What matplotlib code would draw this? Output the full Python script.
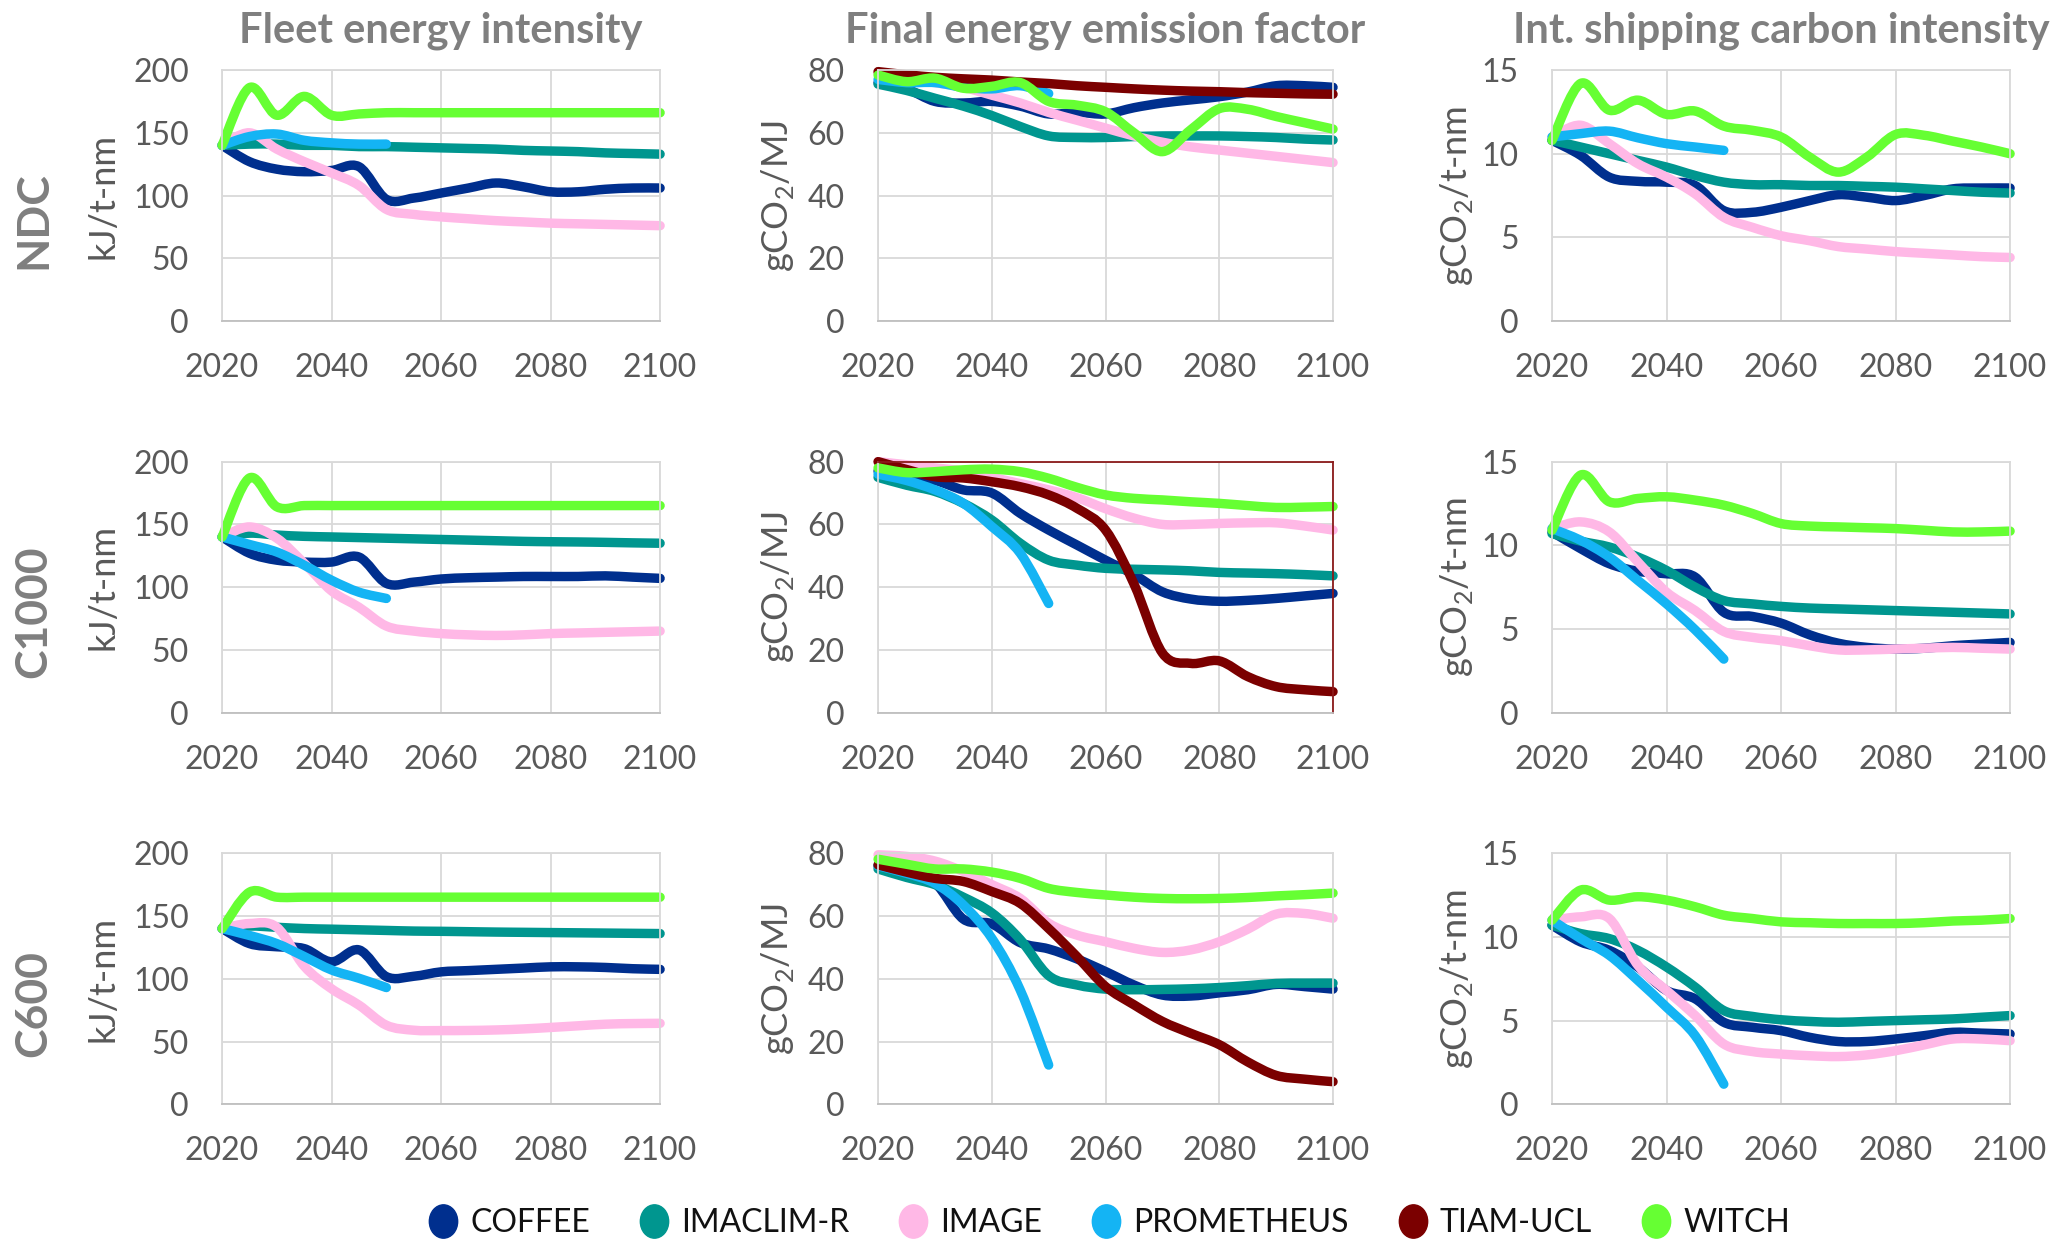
import numpy as np
import matplotlib.pyplot as plt
from matplotlib.path import Path
from matplotlib.patches import PathPatch
from matplotlib.lines import Line2D
from matplotlib.markers import MarkerStyle
from matplotlib.transforms import Affine2D

plt.rcParams['font.family'] = ['Lato', 'DejaVu Sans']
plt.rcParams['mathtext.fontset'] = 'custom'
plt.rcParams['mathtext.rm'] = 'Lato'

# ---- data -------------------------------------------------------------
years = list(range(2020, 2101, 5))
years_prom = list(range(2020, 2051, 5))

models = ['COFFEE', 'IMACLIM-R', 'IMAGE', 'PROMETHEUS', 'TIAM-UCL', 'WITCH']
colors = ['#002f8e', '#00968f', '#ffb8e6', '#14b4f4', '#7b0000', '#66ff33']

scenarios = ['NDC', 'C1000', 'C600']
titles = ['Fleet energy intensity', 'Final energy emission factor',
          'Int. shipping carbon intensity']
ylabels = ['kJ/t-nm', r'gCO$_\mathregular{2}$/MJ', r'gCO$_\mathregular{2}$/t-nm']
ymax = [200, 80, 15]
ystep = [50, 20, 5]

# fleet energy intensity, kJ/t-nm
fei_ndc_coffee = [140, 127, 121, 119, 120, 123, 97, 98, 102, 106, 110, 107, 103, 103, 105, 106, 106]
fei_ndc_imaclim = [140, 141, 141, 140, 140, 139, 139, 138.5, 138, 137.5, 137, 136, 135.5, 135, 134, 133.5, 133]
fei_ndc_image = [140, 150, 137, 127, 118, 108, 89, 85, 83, 81.5, 80, 79, 78, 77.5, 77, 76.5, 76]
fei_ndc_prom = [140, 147, 149, 144, 142, 141, 141]
fei_ndc_witch = [140, 186, 164, 179, 164, 165, 166, 166, 166, 166, 166, 166, 166, 166, 166, 166, 166]

fei_c1000_coffee = [140, 127, 121.5, 120, 120, 124, 103, 104, 106.5, 107.5, 108, 108.5, 108.5, 108.5, 109, 108, 107]
fei_c1000_imaclim = [140, 143, 141.5, 140.5, 140, 139.5, 139, 138.5, 138, 137.5, 137, 136.5, 136.2, 136, 135.7, 135.3, 135]
fei_c1000_image = [140, 148, 139, 119, 97, 84, 69, 65, 63, 62, 61.5, 62, 63, 63.5, 64, 64.5, 65]
fei_c1000_prom = [140, 134, 128, 117.5, 105.5, 96, 91]
fei_c1000_witch = [140, 187, 164, 165, 165, 165, 165, 165, 165, 165, 165, 165, 165, 165, 165, 165, 165]

fei_c600_coffee = [140, 128, 125.5, 124, 113.5, 123, 101.7, 102, 105.5, 106.5, 107.5, 108.5, 109.5, 109.5, 109, 108, 107.5]
fei_c600_imaclim = [140, 142, 141, 140, 139.5, 139, 138.5, 138, 137.8, 137.5, 137.2, 137, 136.8, 136.6, 136.4, 136.2, 136]
fei_c600_image = [140, 144, 141, 110, 92, 79, 63, 59, 58.7, 58.8, 59.2, 60, 61.2, 62.5, 63.8, 64.3, 64.5]
fei_c600_prom = [140, 134.5, 128, 117.7, 107, 100.4, 93]
fei_c600_witch = [140, 169, 165, 165, 165, 165, 165, 165, 165, 165, 165, 165, 165, 165, 165, 165, 165]

# final energy emission factor, gCO2/MJ
fef_ndc_coffee = [76, 74, 70, 69.5, 70, 68.5, 66, 66.5, 66, 68, 69.5, 70.5, 71.5, 73, 75, 75, 74.5]
fef_ndc_imaclim = [75.5, 73.5, 71, 68.5, 65.5, 62, 59, 58.5, 58.5, 58.8, 59, 59, 59, 58.8, 58.5, 58, 57.7]
fef_ndc_image = [79, 77.5, 76, 74.5, 72, 69.5, 66.5, 64, 61.5, 59, 57, 55.5, 54.5, 53.5, 52.5, 51.5, 50.5]
fef_ndc_prom = [77, 76, 76, 74.5, 74, 75, 72.5]
fef_ndc_tiam = [79.5, 78.5, 77.7, 77.2, 76.8, 76.2, 75.7, 75, 74.5, 74, 73.6, 73.3, 73.1, 72.8, 72.6, 72.4, 72.3]
fef_ndc_witch = [78.4, 76.3, 77.4, 74.2, 74.8, 76, 70, 68.8, 66.7, 60, 54, 61, 67.7, 67.5, 65.2, 63.2, 61.2]

fef_c1000_coffee = [77, 75, 74, 71, 70, 63.5, 58.2, 53.4, 48.6, 44, 38.5, 36.2, 35.5, 35.8, 36.4, 37.2, 38]
fef_c1000_imaclim = [75, 72.5, 70.5, 66.7, 61.4, 54, 48.6, 47, 46, 45.7, 45.5, 45.2, 44.7, 44.5, 44.3, 44, 43.6]
fef_c1000_image = [80, 79, 78, 77, 75, 73, 71, 68.5, 65, 62, 60, 60, 60.3, 60.5, 60.5, 59.5, 58.2]
fef_c1000_prom = [76, 74, 71, 66.7, 59.3, 50.8, 34.8]
fef_c1000_tiam = [80, 77.5, 75.2, 74.8, 73.6, 72, 69.4, 65.1, 58.2, 41, 19, 15.7, 16.5, 11.5, 8.3, 7.3, 6.7]
fef_c1000_witch = [78, 76.5, 76.8, 77.4, 77.6, 76.8, 74.7, 71.8, 69.4, 68.3, 67.8, 67.2, 66.7, 66, 65.4, 65.5, 65.7]

fef_c600_coffee = [76, 73.5, 70.5, 59, 57.5, 51.5, 49.5, 46.3, 42.3, 38, 34.8, 34.5, 35.5, 36.5, 38.2, 37.5, 36.7]
fef_c600_imaclim = [75, 72.3, 70, 66, 61, 52.5, 41, 38, 36.7, 36.5, 36.6, 36.8, 37.2, 37.8, 38.5, 38.6, 38.6]
fef_c600_image = [79.5, 79, 77.5, 74.2, 70, 65.6, 57.7, 53.9, 51.8, 49.7, 48.4, 49.2, 51.8, 55.8, 60.6, 60.8, 59.3]
fef_c600_prom = [76, 73.6, 70.4, 63.5, 52.9, 36.4, 12.5]
fef_c600_tiam = [76.3, 74, 72, 71, 67.8, 64, 56, 47, 37.5, 31.7, 26.4, 22.6, 19, 13.5, 9.2, 8, 7.2]
fef_c600_witch = [78.1, 76.5, 75, 75, 74, 72, 68.8, 67.5, 66.7, 66, 65.6, 65.5, 65.6, 65.9, 66.4, 66.8, 67.3]

# international shipping carbon intensity, gCO2/t-nm
sci_ndc_coffee = [10.8, 9.9, 8.6, 8.35, 8.3, 8.1, 6.6, 6.5, 6.8, 7.2, 7.55, 7.4, 7.2, 7.5, 7.9, 7.95, 7.95]
sci_ndc_imaclim = [10.8, 10.4, 10.0, 9.6, 9.2, 8.7, 8.3, 8.15, 8.15, 8.1, 8.1, 8.05, 8.0, 7.9, 7.8, 7.7, 7.65]
sci_ndc_image = [11.0, 11.7, 10.6, 9.4, 8.6, 7.6, 6.2, 5.6, 5.1, 4.8, 4.45, 4.3, 4.15, 4.05, 3.95, 3.85, 3.8]
sci_ndc_prom = [11.0, 11.2, 11.35, 10.95, 10.6, 10.4, 10.2]
sci_ndc_witch = [10.8, 14.2, 12.6, 13.2, 12.35, 12.55, 11.65, 11.4, 11.0, 9.8, 8.9, 9.8, 11.15, 11.1, 10.75, 10.4, 10.0]

sci_c1000_coffee = [10.8, 9.8, 8.9, 8.45, 8.3, 8.1, 6.0, 5.75, 5.35, 4.65, 4.15, 3.9, 3.8, 3.85, 4.0, 4.1, 4.2]
sci_c1000_imaclim = [10.7, 10.25, 9.9, 9.3, 8.5, 7.5, 6.7, 6.5, 6.35, 6.25, 6.2, 6.15, 6.1, 6.05, 6.0, 5.95, 5.9]
sci_c1000_image = [11.0, 11.4, 10.8, 9.0, 7.2, 6.1, 4.85, 4.5, 4.3, 4.0, 3.75, 3.75, 3.8, 3.85, 3.9, 3.85, 3.8]
sci_c1000_prom = [11.0, 10.3, 9.3, 7.9, 6.5, 4.95, 3.2]
sci_c1000_witch = [10.9, 14.2, 12.6, 12.8, 12.9, 12.7, 12.4, 11.9, 11.3, 11.15, 11.1, 11.05, 11.0, 10.9, 10.8, 10.8, 10.85]

sci_c600_coffee = [10.7, 9.7, 9.2, 8.2, 6.8, 6.3, 4.9, 4.6, 4.4, 4.0, 3.75, 3.75, 3.9, 4.1, 4.3, 4.25, 4.2]
sci_c600_imaclim = [10.7, 10.2, 9.9, 9.2, 8.2, 7.0, 5.6, 5.25, 5.05, 4.95, 4.9, 4.95, 5.0, 5.05, 5.1, 5.2, 5.3]
sci_c600_image = [11.0, 11.2, 11.1, 8.3, 6.8, 5.3, 3.6, 3.15, 3.0, 2.9, 2.85, 2.95, 3.2, 3.55, 3.9, 3.9, 3.8]
sci_c600_prom = [11.0, 9.9, 8.9, 7.4, 5.8, 4.1, 1.2]
sci_c600_witch = [11.0, 12.8, 12.2, 12.4, 12.2, 11.8, 11.3, 11.1, 10.9, 10.85, 10.8, 10.8, 10.8, 10.85, 10.95, 11.0, 11.1]

# panels[row][col] -> {model: values}
panels = [
    [{'COFFEE': fei_ndc_coffee, 'IMACLIM-R': fei_ndc_imaclim, 'IMAGE': fei_ndc_image,
      'PROMETHEUS': fei_ndc_prom, 'WITCH': fei_ndc_witch},
     {'COFFEE': fef_ndc_coffee, 'IMACLIM-R': fef_ndc_imaclim, 'IMAGE': fef_ndc_image,
      'PROMETHEUS': fef_ndc_prom, 'TIAM-UCL': fef_ndc_tiam, 'WITCH': fef_ndc_witch},
     {'COFFEE': sci_ndc_coffee, 'IMACLIM-R': sci_ndc_imaclim, 'IMAGE': sci_ndc_image,
      'PROMETHEUS': sci_ndc_prom, 'WITCH': sci_ndc_witch}],
    [{'COFFEE': fei_c1000_coffee, 'IMACLIM-R': fei_c1000_imaclim, 'IMAGE': fei_c1000_image,
      'PROMETHEUS': fei_c1000_prom, 'WITCH': fei_c1000_witch},
     {'COFFEE': fef_c1000_coffee, 'IMACLIM-R': fef_c1000_imaclim, 'IMAGE': fef_c1000_image,
      'PROMETHEUS': fef_c1000_prom, 'TIAM-UCL': fef_c1000_tiam, 'WITCH': fef_c1000_witch},
     {'COFFEE': sci_c1000_coffee, 'IMACLIM-R': sci_c1000_imaclim, 'IMAGE': sci_c1000_image,
      'PROMETHEUS': sci_c1000_prom, 'WITCH': sci_c1000_witch}],
    [{'COFFEE': fei_c600_coffee, 'IMACLIM-R': fei_c600_imaclim, 'IMAGE': fei_c600_image,
      'PROMETHEUS': fei_c600_prom, 'WITCH': fei_c600_witch},
     {'COFFEE': fef_c600_coffee, 'IMACLIM-R': fef_c600_imaclim, 'IMAGE': fef_c600_image,
      'PROMETHEUS': fef_c600_prom, 'TIAM-UCL': fef_c600_tiam, 'WITCH': fef_c600_witch},
     {'COFFEE': sci_c600_coffee, 'IMACLIM-R': sci_c600_imaclim, 'IMAGE': sci_c600_image,
      'PROMETHEUS': sci_c600_prom, 'WITCH': sci_c600_witch}],
]


def smooth_path(x, y):
    # Bezier curve through the points (like a spreadsheet "smoothed line")
    pts = np.column_stack([x, y]).astype(float)
    n = len(pts)
    verts = [pts[0]]
    codes = [Path.MOVETO]
    for i in range(n - 1):
        p0 = pts[i - 1] if i > 0 else pts[i]
        p1 = pts[i]
        p2 = pts[i + 1]
        p3 = pts[i + 2] if i + 2 < n else pts[i + 1]
        verts += [p1 + (p2 - p0) / 6, p2 - (p3 - p1) / 6, p2]
        codes += [Path.CURVE4] * 3
    return Path(verts, codes)


fig = plt.figure(figsize=(20.68, 12.42), dpi=100)

col_left = [0.1074, 0.4246, 0.7505]
col_w = [0.2118, 0.2200, 0.2215]
row_bottom = [0.7415, 0.4262, 0.1109]
row_h = 0.2021
ylab_x = [-0.235, -0.180, -0.168]

grid_c = '#d9d9d9'
text_c = '#595959'

for r in range(3):
    for c in range(3):
        ax = fig.add_axes([col_left[c], row_bottom[r], col_w[c], row_h])
        ax.set_xlim(2020, 2100)
        ax.set_ylim(0, ymax[c])
        ax.set_xticks(range(2020, 2101, 20))
        ax.set_yticks(np.arange(0, ymax[c] + 1, ystep[c]))
        ax.grid(True, color=grid_c, lw=1.3)
        ax.set_axisbelow(True)
        for s in ax.spines.values():
            s.set_color(grid_c)
            s.set_linewidth(1.3)
        ax.spines['bottom'].set_color('#bfbfbf')
        if r == 1 and c == 1:
            ax.spines['top'].set_color('#8b1a1a')
            ax.spines['right'].set_color('#8b1a1a')
        ax.tick_params(length=0, labelsize=23, labelcolor=text_c)
        ax.tick_params(axis='x', pad=23)
        ax.tick_params(axis='y', pad=24)

        ax.set_ylabel(ylabels[c], fontsize=26, color=text_c)
        ax.yaxis.set_label_coords(ylab_x[c], 0.5)

        if r == 0:
            ax.set_title(titles[c], fontsize=30, fontweight='bold',
                         color='#7f7f7f', pad=20)

        for m, col in zip(models, colors):
            if m not in panels[r][c]:
                continue
            vals = panels[r][c][m]
            xs = years_prom if m == 'PROMETHEUS' else years
            patch = PathPatch(smooth_path(xs, vals), fill=False, edgecolor=col,
                              lw=6.8, capstyle='round', joinstyle='round',
                              clip_on=False)
            ax.add_patch(patch)

    yc = row_bottom[r] + row_h / 2 - 0.02
    fig.text(0.016, yc, scenarios[r], rotation=90, ha='center', va='center',
             fontsize=32, fontweight='bold', color='#7f7f7f')

# legend with tall oval markers
oval = MarkerStyle('o', transform=Affine2D().scale(0.85, 1.0))
handles = [Line2D([], [], ls='none', marker=oval, markersize=24,
                  markerfacecolor=col, markeredgecolor=col) for col in colors]
fig.legend(handles, models, loc='center', bbox_to_anchor=(0.536, 0.0155),
           ncol=6, frameon=False, fontsize=23, handletextpad=0.35,
           columnspacing=1.5, handlelength=1.0, labelcolor='#111111')

fig.savefig('out.png', dpi=100, facecolor='white')
